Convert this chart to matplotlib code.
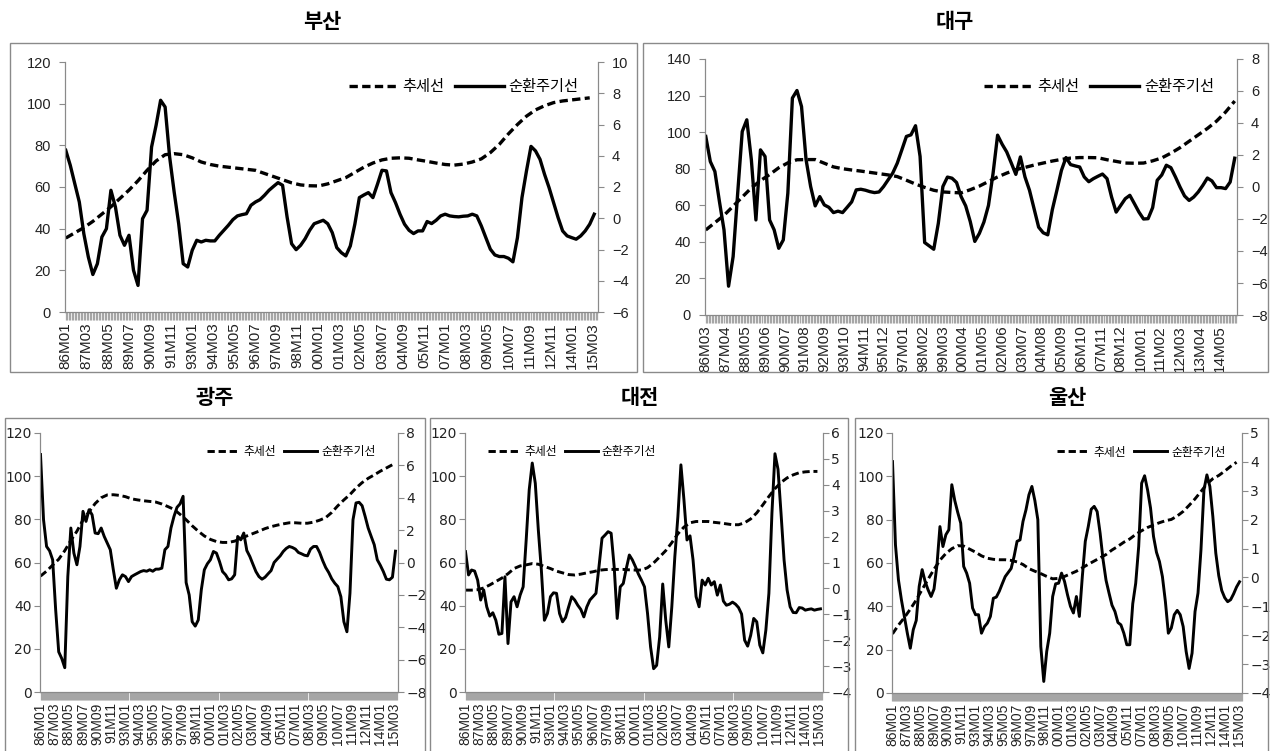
import numpy as np
import matplotlib.pyplot as plt
from matplotlib.patches import Rectangle

plt.rcParams['font.family'] = ['Liberation Sans', 'Noto Sans CJK KR', 'DejaVu Sans']

W, H = 1270, 751

# ____________________________ Data _______________________________________
# trend (left axis) sampled every 6 months, cycle (right axis) every 3 months

busan_ticks = ['86M01', '87M03', '88M05', '89M07', '90M09', '91M11', '93M01', '94M03', '95M05',
               '96M07', '97M09', '98M11', '00M01', '01M03', '02M05', '03M07', '04M09', '05M11',
               '07M01', '08M03', '09M05', '10M07', '11M09', '12M11', '14M01', '15M03']
daegu_ticks = ['86M03', '87M04', '88M05', '89M06', '90M07', '91M08', '92M09', '93M10', '94M11',
               '95M12', '97M01', '98M02', '99M03', '00M04', '01M05', '02M06', '03M07', '04M08',
               '05M09', '06M10', '07M11', '08M12', '10M01', '11M02', '12M03', '13M04', '14M05']

busan_trend = [35.5, 38, 40.5, 43.5, 47, 50.5, 54.5, 58.5, 63, 68,
               72.5, 75.5, 76, 75.5, 74, 72, 70.8, 70, 69.5, 69,
               68.5, 68, 66.5, 65, 63.5, 62, 61, 60.6, 60.5, 61.5,
               63, 64.5, 67, 69.5, 71.5, 73, 73.8, 74, 73.8, 73,
               72.3, 71.5, 70.8, 70.5, 71, 72, 73.5, 76.5, 80.5, 85.5,
               90, 94, 97, 99, 100.5, 101.3, 101.8, 102.3, 102.8]
busan_cycle = [4.35, 3.39, 2.21, 1.04, -0.99, -2.48, -3.6, -2.91, -1.2, -0.67,
               1.79, 0.72, -1.09, -1.73, -1.09, -3.33, -4.3, -0.03, 0.51, 4.56,
               5.95, 7.55, 7.12, 3.92, 1.68, -0.35, -2.91, -3.12, -2.05, -1.41,
               -1.52, -1.41, -1.45, -1.45, -1.09, -0.77, -0.45, -0.09, 0.15, 0.23,
               0.29, 0.83, 1.04, 1.19, 1.47, 1.79, 2.04, 2.28, 2.11, 0.08,
               -1.63, -2.01, -1.73, -1.31, -0.77, -0.35, -0.24, -0.13, -0.35, -0.92,
               -1.88, -2.2, -2.41, -1.77, -0.38, 1.32, 1.49, 1.64, 1.32, 2.17,
               3.07, 3.03, 1.64, 1.0, 0.26, -0.38, -0.77, -0.98, -0.81, -0.81,
               -0.21, -0.34, -0.13, 0.15, 0.26, 0.15, 0.11, 0.09, 0.13, 0.15,
               0.26, 0.15, -0.49, -1.24, -1.98, -2.35, -2.45, -2.45, -2.56, -2.79,
               -1.24, 1.32, 3.03, 4.6, 4.31, 3.77, 2.81, 1.96, 1.0, 0.04,
               -0.81, -1.13, -1.24, -1.34, -1.13, -0.81, -0.38, 0.26]

daegu_trend = [46.5, 50.5, 54.5, 59.5, 64.5, 69.5, 73.5, 76.8, 80.5, 83.2,
               84.9, 85, 85, 83, 81, 80, 79.3, 78.7, 78, 77.3,
               76.6, 75.7, 73.7, 71.6, 69.8, 68.2, 67.3, 67, 66.8, 68.5,
               70.5, 73, 75.5, 77.6, 79.5, 80.7, 82, 83.1, 84.2, 85.1,
               85.8, 86.1, 86.1, 86, 84.9, 84, 83.1, 83, 83.1, 84.3,
               85.9, 88.5, 91.5, 95, 98.5, 102, 106, 111, 117]
daegu_cycle = [3.16, 1.59, 0.97, -0.91, -2.68, -6.2, -4.35, -0.39, 3.47, 4.2,
               1.7, -2.06, 2.32, 1.91, -2.06, -2.68, -3.83, -3.31, -0.39, 5.56,
               6.03, 5.03, 1.7, 0.03, -1.18, -0.6, -1.12, -1.27, -1.6, -1.51,
               -1.6, -1.27, -0.93, -0.18, -0.14, -0.2, -0.29, -0.35, -0.31, 0.03,
               0.45, 0.87, 1.49, 2.32, 3.16, 3.26, 3.83, 1.91, -3.47, -3.68,
               -3.89, -2.27, 0.03, 0.62, 0.55, 0.28, -0.6, -1.18, -2.16, -3.4,
               -2.9, -2.19, -1.15, 0.84, 3.24, 2.67, 2.19, 1.5, 0.79, 1.88,
               0.63, -0.21, -1.36, -2.51, -2.86, -2.99, -1.42, -0.21, 1.04, 1.84,
               1.4, 1.32, 1.25, 0.63, 0.33, 0.52, 0.67, 0.81, 0.52, -0.63,
               -1.57, -1.15, -0.73, -0.52, -1.04, -1.57, -2.0, -1.98, -1.29, 0.42,
               0.75, 1.36, 1.21, 0.63, 0.0, -0.56, -0.84, -0.63, -0.31, 0.1,
               0.56, 0.38, -0.04, -0.04, -0.1, 0.31, 1.8]

gwangju_trend = [53.7, 56, 58.8, 61.5, 65.5, 70.2, 74.5, 79.7, 83.5, 87.3,
                 90, 91.3, 91.4, 91.1, 90.5, 89.5, 89, 88.6, 88.3, 88,
                 87.1, 85.9, 84.6, 82.3, 79.8, 77, 74.5, 72.3, 70.7, 69.7,
                 69.3, 69.3, 69.9, 71.1, 72.3, 73.4, 74.5, 75.7, 76.6, 77.3,
                 77.9, 78.4, 78.4, 78.2, 78.2, 78.7, 79.6, 80.8, 83.2, 86.3,
                 89, 91.5, 94.5, 97, 99, 100.6, 102.3, 103.8, 105.3]
gwangju_cycle = [6.67, 2.64, 0.99, 0.72, 0.17, -2.93, -5.52, -5.93, -6.5, -0.87,
                 2.13, 0.58, -0.14, 0.99, 3.16, 2.54, 3.26, 2.95, 1.82, 1.78,
                 2.13, 1.61, 1.2, 0.79, -0.45, -1.59, -1.07, -0.76, -0.87, -1.18,
                 -0.87, -0.76, -0.66, -0.56, -0.5, -0.54, -0.45, -0.54, -0.41, -0.41,
                 -0.35, 0.79, 0.99, 2.13, 2.85, 3.41, 3.62, 4.09, -1.24, -2.0,
                 -3.66, -3.93, -3.55, -1.69, -0.45, -0.08, 0.17, 0.68, 0.58, 0.06,
                 -0.56, -0.76, -1.07, -1.01, -0.76, 1.61, 1.4, 1.82, 0.74, 0.37,
                 -0.1, -0.56, -0.87, -1.03, -0.91, -0.7, -0.5, 0.0, 0.21, 0.41,
                 0.68, 0.87, 0.99, 0.93, 0.83, 0.62, 0.54, 0.45, 0.41, 0.83,
                 0.99, 0.99, 0.62, 0.12, -0.31, -0.62, -1.01, -1.28, -1.49, -2.11,
                 -3.66, -4.28, -1.9, 2.64, 3.68, 3.72, 3.51, 2.85, 2.13, 1.61,
                 1.1, 0.17, -0.17, -0.56, -1.03, -1.07, -0.91, 0.7]

daejeon_trend = [47.2, 47.2, 47.4, 48.2, 49.6, 51.2, 52.8, 54.8, 57.2, 58.4,
                 58.9, 59.5, 59.2, 58.2, 57.2, 56, 55.2, 54.4, 54.2, 54.6,
                 55.2, 55.7, 56.4, 56.7, 56.8, 56.8, 56.8, 56.6, 56.5, 56.5,
                 57.6, 59.8, 62.6, 65.5, 69.2, 73.3, 76.4, 78.4, 79, 79,
                 79, 78.6, 78.3, 77.9, 77.5, 77.5, 78.4, 80.2, 83, 86.7,
                 90.6, 94.2, 97.1, 99.2, 100.6, 101.6, 102, 102.2, 102.2]
daejeon_cycle = [1.42, 0.52, 0.71, 0.67, 0.32, -0.45, -0.06, -0.71, -1.07, -0.94,
                 -1.23, -1.77, -1.74, 0.45, -2.13, -0.52, -0.32, -0.71, -0.26, 0.06,
                 1.87, 3.81, 4.84, 4.06, 2.26, 0.71, -1.23, -0.97, -0.32, -0.17,
                 -0.19, -0.97, -1.29, -1.12, -0.71, -0.32, -0.45, -0.65, -0.81, -1.1,
                 -0.71, -0.45, -0.32, -0.19, 0.84, 1.94, 2.06, 2.19, 2.13, 0.84,
                 -1.16, 0.06, 0.19, 0.77, 1.29, 1.1, 0.84, 0.55, 0.32, 0.06,
                 -0.97, -2.26, -3.1, -2.97, -1.87, 0.17, -1.23, -2.26, -0.71, 1.23,
                 2.77, 4.77, 3.42, 1.87, 2.03, 1.1, -0.32, -0.71, 0.32, 0.13,
                 0.39, 0.13, 0.26, -0.26, 0.13, -0.49, -0.65, -0.61, -0.53, -0.61,
                 -0.74, -0.99, -2.0, -2.23, -1.81, -1.16, -1.29, -2.19, -2.49, -1.61,
                 -0.19, 2.9, 5.2, 4.6, 2.9, 1.1, -0.06, -0.71, -0.93, -0.94,
                 -0.74, -0.76, -0.84, -0.81, -0.79, -0.84, -0.81, -0.79]

ulsan_trend = [27.3, 31.3, 34.8, 38.7, 42.9, 47.8, 52.5, 57.1, 61.3, 64.4,
               66.6, 68, 67.8, 66.4, 65, 63.3, 62.2, 61.7, 61.5, 61.5,
               61.2, 60.5, 59.3, 57.4, 56.2, 55.1, 53.8, 52.7, 52.9, 53.8,
               55, 56.2, 57.8, 59.4, 60.9, 62.4, 63.9, 66, 67.7, 69.6,
               71.1, 73.2, 74.9, 76.4, 77.5, 78.6, 79.5, 80.1, 81.7, 83.8,
               86.6, 89.6, 93, 96.5, 98.9, 100.4, 102.4, 104.6, 106.5]
ulsan_cycle = [4.01, 1.13, -0.08, -0.77, -1.35, -1.93, -2.45, -1.81, -1.49, -0.31,
               0.27, -0.14, -0.43, -0.66, -0.4, 0.44, 1.76, 1.07, 1.48, 1.65,
               3.21, 2.66, 2.25, 1.88, 0.38, 0.15, -0.2, -1.06, -1.29, -1.29,
               -1.93, -1.7, -1.58, -1.35, -0.72, -0.68, -0.48, -0.22, 0.03, 0.17,
               0.31, 0.73, 1.25, 1.3, 1.94, 2.34, 2.86, 3.15, 2.66, 2.0,
               -2.39, -3.6, -2.56, -1.93, -0.66, -0.22, -0.2, 0.15, -0.14, -0.6,
               -1.0, -1.23, -0.66, -1.35, 0.03, 1.25, 1.76, 2.36, 2.46, 2.28,
               1.53, 0.61, -0.1, -0.54, -0.96, -1.18, -1.56, -1.64, -1.93, -2.33,
               -2.33, -0.91, -0.2, 1.07, 3.26, 3.52, 3.03, 2.4, 1.42, 0.87,
               0.55, 0.03, -0.83, -1.93, -1.75, -1.29, -1.14, -1.29, -1.7, -2.56,
               -3.15, -2.62, -1.18, -0.54, 0.96, 3.03, 3.55, 3.15, 2.11, 0.84,
               0.06, -0.45, -0.7, -0.84, -0.77, -0.57, -0.33, -0.15]

legend_names = ['추세선', '순환주기선']

fig = plt.figure(figsize=(W / 100, H / 100), dpi=100)


# pixel box (left, top, right, bottom) -> figure fraction
def px(l, t, r, b):
    return [l / W, 1 - b / H, (r - l) / W, (b - t) / H]


def drawPanel(box, rect, title, title_pos, trend, cycle, left_lim, left_step, right_lim, right_step,
              labels, label_step, n_months, leg_loc, leg_anchor, small):
    # gray frame round the panel
    fig.add_artist(Rectangle((box[0] / W, 1 - box[3] / H), (box[2] - box[0]) / W, (box[3] - box[1]) / H,
                             transform=fig.transFigure, fill=False, ec='#8a8a8a', lw=1.0))
    fig.text(title_pos[0] / W, 1 - title_pos[1] / H, title, ha='center', va='center',
             fontsize=15, fontweight='bold', family='Noto Sans CJK KR')

    ax = fig.add_axes(px(*rect))
    ax2 = ax.twinx()
    lw = 2.1 if small else 2.4
    t_line, = ax.plot(np.arange(len(trend)) * 6, trend, color='black', lw=lw, dashes=(2.5, 1.3))
    c_line, = ax2.plot(np.arange(len(cycle)) * 3, cycle, color='black', lw=lw)

    ax.set_xlim(-0.5, n_months - 0.5)
    ax.set_ylim(left_lim)
    ax2.set_ylim(right_lim)
    ax.set_yticks(np.arange(left_lim[0], left_lim[1] + 1, left_step))
    ax2.set_yticks(np.arange(right_lim[0], right_lim[1] + 0.5, right_step))

    ax.set_xticks(np.arange(len(labels)) * label_step)
    ax.set_xticklabels(labels, rotation=90)
    ax.set_xticks(np.arange(n_months), minor=True)

    ysize = 10 if small else 10.5
    yfont = 'Liberation Sans Narrow' if small else 'Liberation Sans'
    ypad = 2 if small else 6
    for a in (ax, ax2):
        a.spines['top'].set_visible(False)
        for s in ('left', 'right', 'bottom'):
            a.spines[s].set_color('#8a8a8a')
        a.tick_params(axis='y', direction='out', length=4, color='#8a8a8a', labelsize=ysize,
                      labelcolor='#222222', pad=ypad, labelfontfamily=yfont)
    ax.tick_params(axis='x', which='both', direction='out', length=6, width=0.9, color='#a6a6a6',
                   labelsize=10 if small else 11, labelcolor='#222222', pad=1.5)

    ax2.legend([t_line, c_line], legend_names, ncol=2, frameon=False, loc=leg_loc,
               bbox_to_anchor=leg_anchor, borderaxespad=0,
               prop={'family': 'Noto Sans CJK KR', 'size': 8.5 if small else 11},
               handlelength=2.8 if small else 3.2, handletextpad=0.3, columnspacing=0.7)


# ____________________________ Panels _______________________________________

drawPanel((10, 43, 637, 372), (65, 62, 598, 312), '부산', (322, 22), busan_trend, busan_cycle,
          (0, 120), 20, (-6, 10), 2, busan_ticks, 14, 354, 'upper right', (0.975, 0.96), False)

drawPanel((643, 43, 1268, 372), (705, 59, 1237, 315), '대구', (955, 22), daegu_trend, daegu_cycle,
          (0, 140), 20, (-8, 8), 2, daegu_ticks, 13, 350, 'upper right', (0.968, 0.95), False)

drawPanel((5, 418, 425, 760), (40, 433, 398, 692), '광주', (215, 398), gwangju_trend, gwangju_cycle,
          (0, 120), 20, (-8, 8), 2, busan_ticks, 14, 354, 'upper right', (0.95, 0.97), True)

drawPanel((430, 418, 848, 760), (465, 433, 823, 692), '대전', (640, 398), daejeon_trend, daejeon_cycle,
          (0, 120), 20, (-4, 6), 1, busan_ticks, 14, 354, 'upper left', (0.05, 0.97), True)

drawPanel((855, 418, 1268, 760), (892, 433, 1242, 693), '울산', (1067, 398), ulsan_trend, ulsan_cycle,
          (0, 120), 20, (-4, 5), 1, busan_ticks, 14, 354, 'upper right', (0.966, 0.97), True)

plt.savefig('out.png', dpi=100)
